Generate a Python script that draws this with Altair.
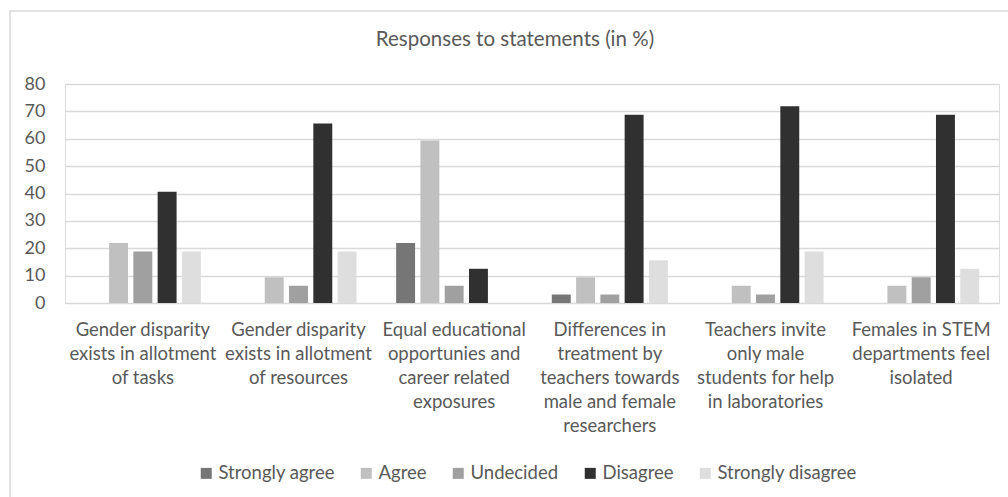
import altair as alt
import pandas as pd

# Statements on the x axis ("|" marks a line break in the axis label)
statements = [
    "Gender disparity|exists in allotment|of tasks",
    "Gender disparity|exists in allotment|of resources",
    "Equal educational|opportunies and|career related|exposures",
    "Differences in|treatment by|teachers towards|male and female|researchers",
    "Teachers invite|only male|students for help|in laboratories",
    "Females in STEM|departments feel|isolated",
]

responses = ["Strongly agree", "Agree", "Undecided", "Disagree", "Strongly disagree"]

# Share of respondents (%) per statement
strongly_agree = [0.0, 0.0, 21.9, 3.1, 0.0, 0.0]
agree = [21.9, 9.4, 59.4, 9.4, 6.3, 6.3]
undecided = [18.8, 6.3, 6.3, 3.1, 3.1, 9.4]
disagree = [40.6, 65.6, 12.5, 68.8, 71.9, 68.8]
strongly_disagree = [18.8, 18.8, 0.0, 15.6, 18.8, 12.5]

colors = ["#767676", "#c0c0c0", "#a0a0a0", "#303030", "#dedede"]

title_text = "Responses to statements (in %)"

series = [strongly_agree, agree, undecided, disagree, strongly_disagree]
rows = []
for i, s in enumerate(statements):
    for r, vals in zip(responses, series):
        rows.append({"statement": s, "response": r, "pct": vals[i]})
df = pd.DataFrame(rows)

FONT = "Lato"
TEXT = "#595959"
W, H = 934, 219
LEFT, TOP = 65, 84

bars = alt.Chart(df).mark_bar().encode(
    x=alt.X(
        "statement:N",
        sort=statements,
        scale=alt.Scale(paddingInner=0.22, paddingOuter=0.11),
        axis=alt.Axis(
            title=None,
            labelAngle=0,
            labelExpr="split(datum.label, '|')",
            labelLineHeight=24,
            labelPadding=17,
            labelBaseline="top",
            ticks=False,
            domain=False,
            labelFontSize=18.5,
            labelColor=TEXT,
            labelFont=FONT,
        ),
    ),
    xOffset=alt.XOffset(
        "response:N",
        sort=responses,
        scale=alt.Scale(paddingInner=0.22, paddingOuter=0.11),
    ),
    y=alt.Y(
        "pct:Q",
        scale=alt.Scale(domain=[0, 80]),
        axis=alt.Axis(
            title=None,
            values=list(range(0, 81, 10)),
            ticks=False,
            domain=False,
            gridColor="#d9d9d9",
            gridWidth=1.5,
            labelPadding=20,
            labelFontSize=18,
            labelColor=TEXT,
            labelFont=FONT,
        ),
    ),
    color=alt.Color(
        "response:N",
        sort=responses,
        scale=alt.Scale(domain=responses, range=colors),
        legend=alt.Legend(
            title=None,
            orient="none",
            legendX=132,
            legendY=380,
            direction="horizontal",
            symbolType="square",
            symbolSize=121,
            symbolStrokeWidth=0,
            symbolOpacity=1,
            labelFontSize=18.5,
            labelFont=FONT,
            labelColor=TEXT,
            labelOffset=3,
            columnPadding=22,
        ),
    ),
)

# Light frame around the whole chart area
frame = alt.Chart(pd.DataFrame({"k": [0]})).mark_rect(
    fillOpacity=0, stroke="#d9d9d9", strokeWidth=1.5
).encode(
    x=alt.value(10 - LEFT),
    x2=alt.value(1016 - LEFT),
    y=alt.value(11 - TOP),
    y2=alt.value(510 - TOP),
)

# Chart heading, centred over the chart area
heading = alt.Chart(pd.DataFrame({"t": [title_text]})).mark_text(
    font=FONT, fontSize=20.5, color=TEXT, align="center", baseline="middle"
).encode(
    text="t:N",
    x=alt.value(515 - LEFT),
    y=alt.value(40 - TOP),
)

chart = alt.layer(frame, bars, heading).properties(
    width=W,
    height=H,
    autosize=alt.AutoSizeParams(type="none"),
    padding={"left": LEFT, "top": TOP, "right": 1008 - LEFT - W, "bottom": 497 - TOP - H},
).configure_view(stroke=None).configure(background="white")

chart.save("out.html", embed_options={"renderer": "svg", "actions": False})
